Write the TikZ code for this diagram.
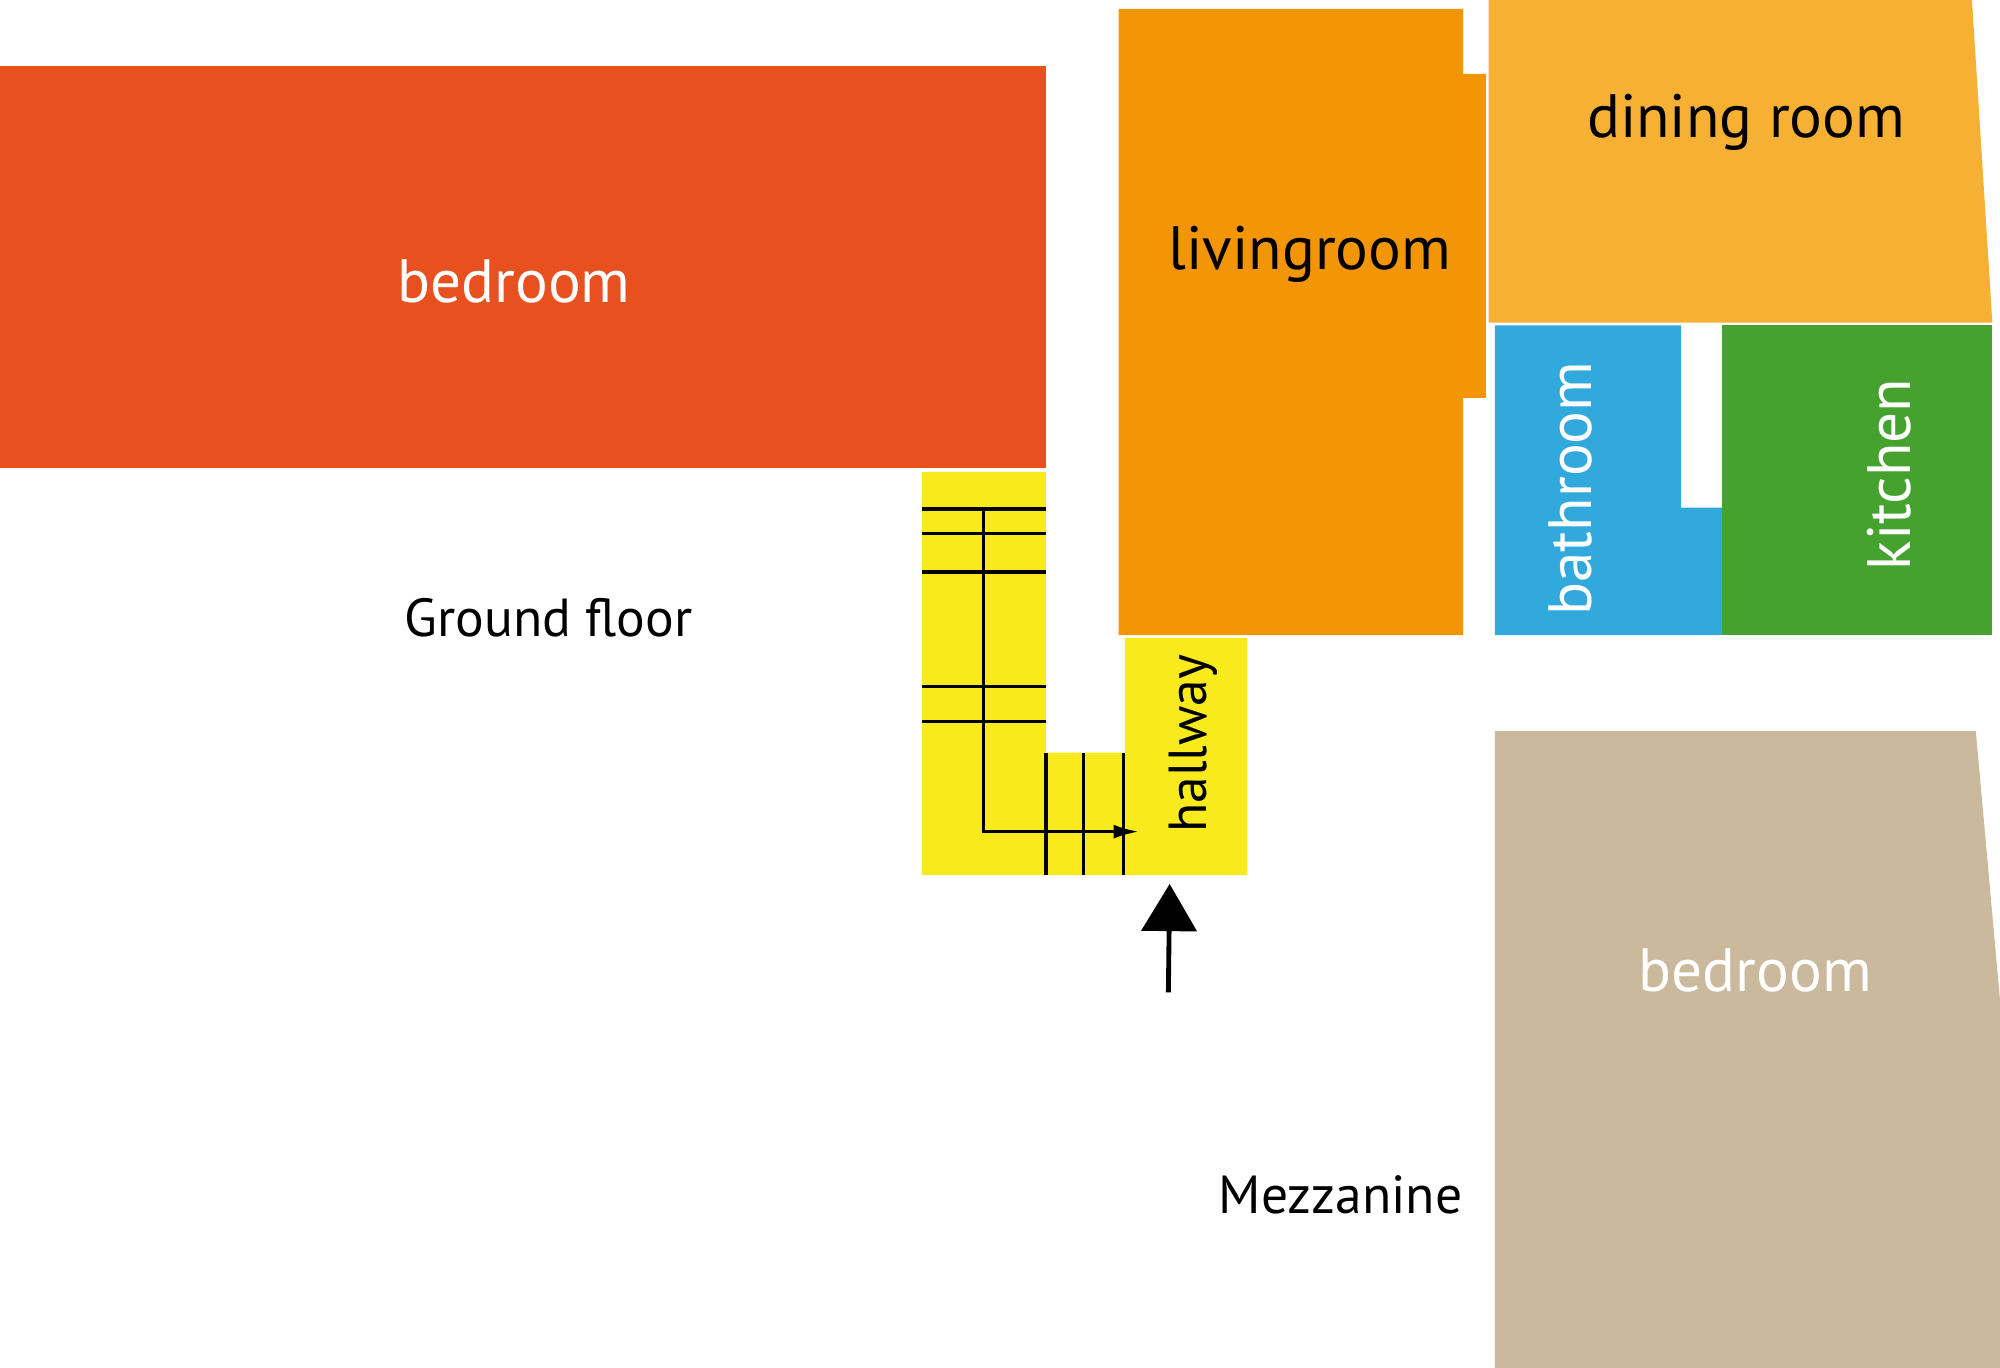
\documentclass[tikz,border=0pt]{standalone}
\usepackage{fontspec}
\setmainfont{PT Sans}
\usetikzlibrary{arrows.meta}

\definecolor{bedred}{HTML}{E8501F}
\definecolor{livorange}{HTML}{F29506}
\definecolor{dinamber}{HTML}{F6B134}
\definecolor{bathblue}{HTML}{32A9DC}
\definecolor{kitgreen}{HTML}{45A22F}
\definecolor{mezztan}{HTML}{CAB99D}
\definecolor{stairyellow}{HTML}{F8EA1C}

\begin{document}
\begin{tikzpicture}[x=1pt,y=-1pt]

\tikzset{room/.style = {inner sep=0pt, anchor=base, font=\fontsize{48}{48}\selectfont}}
\tikzset{floorname/.style = {inner sep=0pt, anchor=base, font=\fontsize{42}{42}\selectfont}}
\tikzset{stairline/.style = {line width=2.6pt}}
\useasboundingbox (0,0) rectangle (1568,1072.5);
%rooms
\fill[bedred] (0,52) rectangle (820,367);
\fill[livorange] (877,7) -- (1147,7) -- (1147,58) -- (1165,58) -- (1165,312)
  -- (1147,312) -- (1147,498) -- (877,498) -- cycle;
\fill[dinamber] (1167,0) -- (1546,0) -- (1562,253) -- (1167,253) -- cycle;
\fill[bathblue] (1172,255) -- (1318,255) -- (1318,398) -- (1350,398)
  -- (1350,498) -- (1172,498) -- cycle;
\fill[kitgreen] (1350,255) rectangle (1562,498);
\fill[mezztan] (1172,573) -- (1549,573) -- (1568,784) -- (1568,1072.5)
  -- (1172,1072.5) -- cycle;
\fill[stairyellow] (723,370) -- (820,370) -- (820,590) -- (882,590) -- (882,500)
  -- (978,500) -- (978,686) -- (723,686) -- cycle;
%stairs
\foreach \y in {399,418,448.5,538,565.5}
  \draw[stairline] (723,\y) -- (820,\y);
\foreach \x in {820,849.5,881}
  \draw[stairline] (\x,590) -- (\x,686);
\coordinate (stairtop) at (771,399);
\coordinate (stairturn) at (771,652);
\coordinate (stairend) at (893,652);
\draw[stairline, -{Latex[length=20pt,width=11pt]}] (stairtop) -- (stairturn) -- (stairend);
%entrance
\coordinate (doorfoot) at (916,778);
\coordinate (doortip) at (917,693);
\draw[line width=3.8pt, -{Triangle[length=37pt,width=43pt]}] (doorfoot) -- (doortip);
%labels
\node[room, text=white] (bedground) at (403,237.5) {bedroom};
\node[floorname] (groundfloor) at (430,499) {Ground floor};
\node[room] (living) at (1027,211) {livingroom};
\node[room] (dining) at (1369,108) {dining room};
\node[room, text=white, rotate=90] (bath) at (1248,383) {bathroom};
\node[room, text=white, rotate=90] (kitchen) at (1498,372) {kitchen};
\node[floorname, rotate=90] (hall) at (946,583) {hallway};
\node[room, text=white] (bedmezz) at (1376,777) {bedroom};
\node[floorname] (mezzanine) at (1051,951) {Mezzanine};

\end{tikzpicture}
\end{document}
